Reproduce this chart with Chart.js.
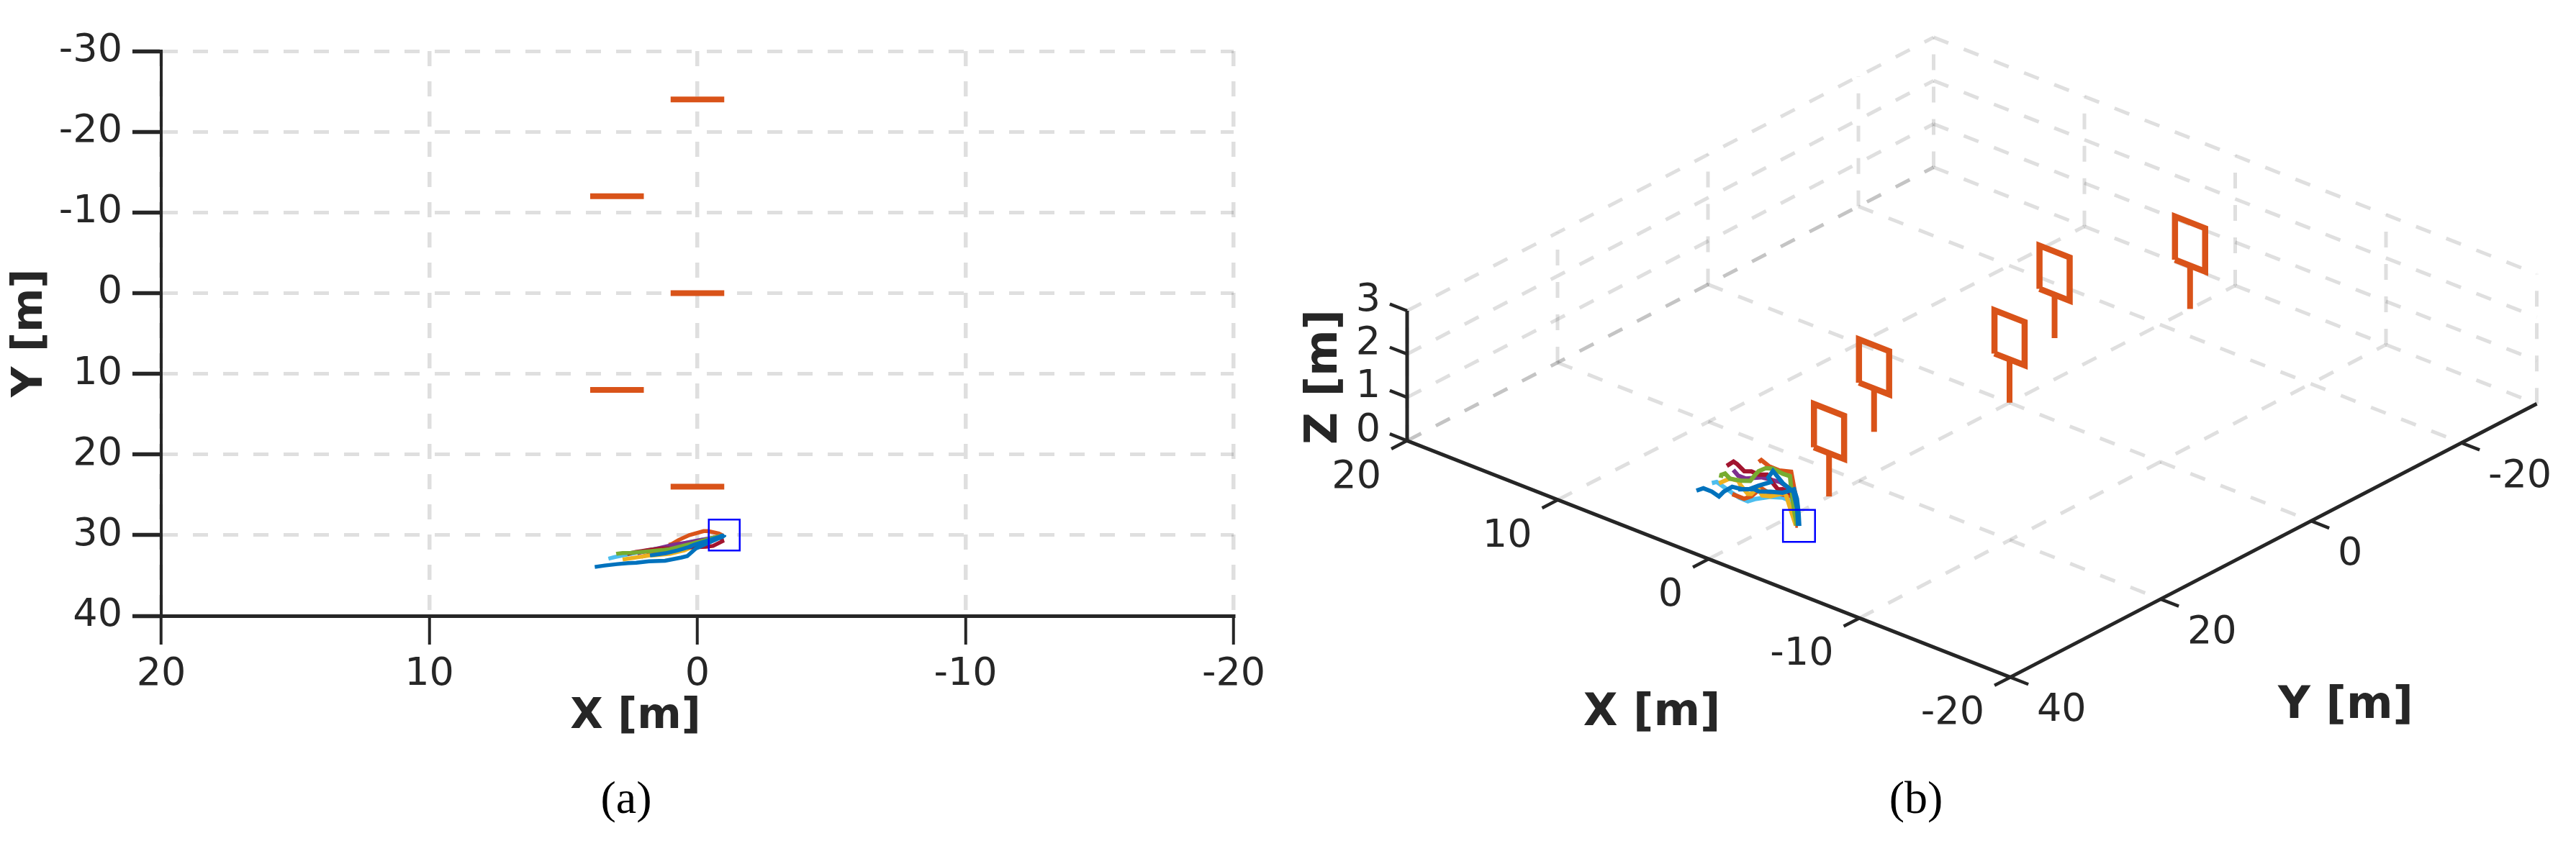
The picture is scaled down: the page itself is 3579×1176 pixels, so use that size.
<!DOCTYPE html>
<html>
<head>
<meta charset="utf-8">
<title>Trajectories and signs</title>
<script src="https://cdn.jsdelivr.net/npm/chart.js@4"></script>
<style>
  html, body { margin: 0; padding: 0; background: #fff; }
  #page { position: relative; width: 3579px; height: 1176px; overflow: hidden; }
  canvas { position: absolute; top: 0; }
  #topView { left: 0; }
  #sideView { left: 1790px; }
</style>
</head>
<body>
<div id="page">
  <canvas id="topView" width="1790" height="1176"></canvas>
  <canvas id="sideView" width="1789" height="1176"></canvas>
</div>
<script>
// axis ticks
const xTicks = [20, 10, 0, -10, -20];
const yTicksTop = [-30, -20, -10, 0, 10, 20, 30, 40];
const yTicks3d = [-20, 0, 20, 40];
const zTicks3d = [0, 1, 2, 3];

// sign posts
const signX = [0, 3, 0, 3, 0];
const signY = [-24, -12, 0, 12, 24];

// start marker
const startX = -1;
const startY = 30;

const blueLongX = [-1.02, -1.0, -0.94, -0.84, -0.4, 0.06, 0.38, 0.6, 1.21, 1.81, 2.28, 2.58, 2.99, 3.46, 3.83];
const blueLongY = [30, 30.05, 30.15, 30.33, 30.98, 31.65, 32.6, 32.78, 33.17, 33.25, 33.42, 33.46, 33.59, 33.77, 33.95];
const blueLongZ = [0, 0.29, 0.63, 0.85, 0.77, 0.79, 0.84, 0.88, 0.83, 0.81, 0.65, 0.5, 0.57, 0.6, 0.51];

const blueUpX = [-0.96, -0.91, -0.77, -0.3, 0.13, 0.31, 0.2, 0.74, 1.19, 1.77];
const blueUpY = [30.03, 30.07, 30.28, 30.76, 31.2, 31.45, 31.36, 31.89, 32.25, 32.52];
const blueUpZ = [0, 0.4, 0.78, 0.96, 1.22, 1.07, 0.97, 0.86, 0.75, 0.69];

const greenX = [-0.91, -0.79, -0.7, -0.62, -0.57, -0.24, 0.2, 0.54, 0.88, 1.05, 1.31, 1.78, 2.49, 2.79, 3.0, 3.03];
const greenY = [30.07, 30.17, 30.24, 30.3, 30.34, 30.66, 31.06, 31.33, 31.6, 31.74, 31.85, 32.0, 32.19, 32.23, 32.3, 32.32];
const greenZ = [0, 0.28, 0.6, 0.88, 1.12, 1.16, 1.25, 1.24, 1.15, 1.05, 0.89, 0.84, 0.81, 0.89, 0.84, 0.77];

const redX = [-0.93, -0.88, -0.93, -0.58, -0.32, -0.02, 0.37, 0.84, 1.33, 1.74, 2.11, 2.3, 2.62];
const redY = [30.06, 30.2, 30.76, 31.34, 31.44, 31.48, 31.5, 31.67, 31.66, 31.79, 31.99, 32.09, 32.34];
const redZ = [0, 0.4, 0.79, 0.91, 0.88, 0.98, 1.13, 1.08, 1.09, 1.05, 1.18, 1.22, 1.1];

const purpleX = [-0.91, -0.77, -0.57, -0.07, 0.42, 0.9, 1.66, 2.0, 2.24];
const purpleY = [30.07, 30.18, 30.34, 30.64, 30.94, 31.2, 31.78, 32.05, 32.24];
const purpleZ = [0, 0.5, 0.82, 0.94, 0.96, 0.97, 0.89, 0.93, 1.05];

const yellowX = [-0.85, -0.62, -0.48, -0.41, 0.17, 0.49, 0.72, 1.01, 1.21, 1.62, 1.77, 2.22, 2.79];
const yellowY = [30.12, 30.3, 30.52, 30.67, 31.44, 31.89, 32.08, 32.31, 32.37, 32.5, 32.52, 32.73, 33.03];
const yellowZ = [0, 0.32, 0.6, 0.74, 0.65, 0.67, 0.83, 0.67, 0.65, 0.8, 0.89, 0.9, 0.74];

const lightBlueX = [-0.91, -0.51, -0.19, 0.42, 1.13, 1.55, 1.97, 2.74, 3.1, 3.32];
const lightBlueY = [30.07, 30.39, 30.55, 30.94, 31.6, 31.69, 31.98, 32.49, 32.73, 32.92];
const lightBlueZ = [0, 0.56, 0.59, 0.56, 0.47, 0.37, 0.42, 0.61, 0.7, 0.66];

const orangeHumpX = [-0.95, -0.8, -0.4, -0.23, 0.3, 0.7, 0.95, 1.07];
const orangeHumpY = [30.05, 29.8, 29.5, 29.5, 30, 30.6, 31.1, 31.2];
const orangeHumpZ = [0, 0.4, 0.8, 1.1, 1.1, 1.2, 1.35, 1.3];

const orangeLowX = [-0.91, -0.71, -0.18, 0.24, 0.69, 1.15, 1.53, 2.09];
const orangeLowY = [30.07, 30.33, 30.86, 31.29, 31.65, 32.02, 32.22, 32.67];
const orangeLowZ = [0, 0.67, 0.7, 0.68, 0.79, 0.57, 0.48, 0.55];

const inkColor = '#262626';
const gridColor = 'rgba(38, 38, 38, 0.15)';
const signColor = '#D95319';
const fontFamily = '"DejaVu Sans"';

// back to front
const runs = [
  { x: lightBlueX, y: lightBlueY, z: lightBlueZ, color: '#4DBEEE' },
  { x: orangeHumpX, y: orangeHumpY, z: orangeHumpZ, color: '#D95319' },
  { x: orangeLowX, y: orangeLowY, z: orangeLowZ, color: '#D95319' },
  { x: yellowX, y: yellowY, z: yellowZ, color: '#EDB120' },
  { x: purpleX, y: purpleY, z: purpleZ, color: '#7E2F8E' },
  { x: redX, y: redY, z: redZ, color: '#A2142F' },
  { x: greenX, y: greenY, z: greenZ, color: '#77AC30' },
  { x: blueUpX, y: blueUpY, z: blueUpZ, color: '#0072BD' },
  { x: blueLongX, y: blueLongY, z: blueLongZ, color: '#0072BD' },
];

function lineSet(data, color, width, dash) {
  return {
    data,
    showLine: true,
    pointRadius: 0,
    borderColor: color,
    borderWidth: width,
    borderDash: dash || [],
    borderCapStyle: 'butt',
    borderJoinStyle: 'miter',
    tension: 0,
    clip: false,
  };
}

function markerSet(point, size) {
  return {
    data: [point],
    showLine: false,
    pointStyle: 'rect',
    pointRadius: size,
    pointBackgroundColor: 'rgba(0, 0, 0, 0)',
    pointBorderColor: '#0000FF',
    pointBorderWidth: 2.5,
    clip: false,
  };
}

// texts that sit at fixed spots on a canvas
function textPlugin(texts) {
  return {
    id: 'texts',
    afterDraw(chart) {
      const ctx = chart.ctx;
      texts(chart).forEach(t => {
        ctx.save();
        ctx.translate(t.x, t.y);
        if (t.rotate) ctx.rotate(t.rotate);
        ctx.font = t.font;
        ctx.fillStyle = t.color || inkColor;
        ctx.textAlign = t.align || 'center';
        ctx.textBaseline = 'middle';
        ctx.fillText(t.text, 0, 0);
        ctx.restore();
      });
    },
  };
}

// ---- left panel, seen from above ----
function topViewData() {
  const sets = [];
  signX.forEach((x, i) => {
    sets.push(lineSet([{ x: x + 1, y: signY[i] }, { x: x - 1, y: signY[i] }], signColor, 8));
  });
  runs.forEach(run => {
    sets.push(lineSet(run.x.map((x, i) => ({ x, y: run.y[i] })), run.color, 5.5));
  });
  sets.push(markerSet({ x: startX, y: startY }, 30.4));
  // Chart.js paints the first dataset last
  return sets.reverse();
}

new Chart(document.getElementById('topView'), {
  type: 'scatter',
  data: { datasets: topViewData() },
  options: {
    responsive: false,
    animation: false,
    devicePixelRatio: 1,
    layout: { autoPadding: false, padding: { top: 71, right: 76, left: 0, bottom: 0 } },
    plugins: { legend: { display: false }, tooltip: { enabled: false } },
    scales: {
      x: {
        type: 'linear',
        reverse: true,
        min: -20,
        max: 20,
        afterFit: scale => { scale.height = 320; },
        afterBuildTicks: scale => { scale.ticks = xTicks.map(value => ({ value })); },
        border: { color: inkColor, width: 5, dash: [21, 21] },
        grid: { color: gridColor, lineWidth: 5.5, tickColor: inkColor, tickLength: 40, tickWidth: 4 },
        ticks: {
          color: inkColor, padding: 10, maxRotation: 0, autoSkip: false,
          font: { family: fontFamily, size: 54 },
          callback: value => String(value),
        },
      },
      y: {
        type: 'linear',
        reverse: true,
        min: -30,
        max: 40,
        afterFit: scale => { scale.width = 224; },
        afterBuildTicks: scale => { scale.ticks = yTicksTop.map(value => ({ value })); },
        border: { color: inkColor, width: 4, dash: [21, 21] },
        grid: { color: gridColor, lineWidth: 5, tickColor: inkColor, tickLength: 40, tickWidth: 5.5 },
        ticks: {
          color: inkColor, padding: 14, autoSkip: false,
          font: { family: fontFamily, size: 54 },
          callback: value => String(value),
        },
      },
    },
  },
  plugins: [textPlugin(() => [
    { text: 'X [m]', x: 883, y: 997, font: `bold 59px ${fontFamily}` },
    { text: 'Y [m]', x: 43, y: 463, rotate: -Math.PI / 2, font: `bold 59px ${fontFamily}` },
    { text: '(a)', x: 870, y: 1113, color: '#000', font: '64px "Liberation Serif"' },
  ])],
});

// ---- right panel, the same world through a fixed oblique view ----
function viewX(X, Y) {
  return 2792 - 20.95 * X - 10.45 * Y;
}
function viewY(X, Y, Z) {
  return 559.8 - 8.22 * X + 5.43 * Y - 60.2 * Z;
}
function at(X, Y, Z) {
  return { x: viewX(X, Y), y: viewY(X, Y, Z) };
}

const xLow = -20, xHigh = 20, yLow = -30, yHigh = 40, zLow = 0, zHigh = 3;

function gridLine(a, b) {
  return lineSet([a, b], gridColor, 5, [22, 23]);
}

function sideViewData() {
  const sets = [];

  // floor
  xTicks.forEach(X => sets.push(gridLine(at(X, yHigh, zLow), at(X, yLow, zLow))));
  yTicks3d.forEach(Y => sets.push(gridLine(at(xHigh, Y, zLow), at(xLow, Y, zLow))));

  // wall at X = 20
  yTicks3d.forEach(Y => sets.push(gridLine(at(xHigh, Y, zLow), at(xHigh, Y, zHigh))));
  zTicks3d.forEach(Z => sets.push(gridLine(at(xHigh, yHigh, Z), at(xHigh, yLow, Z))));

  // wall at Y = -30
  xTicks.forEach(X => sets.push(gridLine(at(X, yLow, zLow), at(X, yLow, zHigh))));
  zTicks3d.forEach(Z => sets.push(gridLine(at(xHigh, yLow, Z), at(xLow, yLow, Z))));

  // axes and their ticks
  sets.push(lineSet([at(xHigh, yHigh, zLow), at(xLow, yHigh, zLow)], inkColor, 5));
  sets.push(lineSet([at(xLow, yHigh, zLow), at(xLow, yLow, zLow)], inkColor, 5));
  sets.push(lineSet([at(xHigh, yHigh, zLow), at(xHigh, yHigh, zHigh)], inkColor, 5));
  xTicks.forEach(X => sets.push(lineSet([at(X, yHigh, zLow), at(X, yHigh + 2.1, zLow)], inkColor, 4.5)));
  yTicks3d.forEach(Y => sets.push(lineSet([at(xLow, Y, zLow), at(xLow - 1.2, Y, zLow)], inkColor, 4.5)));
  zTicks3d.forEach(Z => sets.push(lineSet([at(xHigh, yHigh, Z), at(xHigh + 1.15, yHigh, Z)], inkColor, 4.5)));

  // signs: a post and a square panel on top of it
  signX.forEach((X, i) => {
    const Y = signY[i];
    sets.push(lineSet([at(X, Y, 0), at(X, Y, 1)], signColor, 8));
    sets.push(lineSet([
      at(X + 1, Y, 1), at(X - 1, Y, 1), at(X - 1, Y, 2), at(X + 1, Y, 2), at(X + 1, Y, 1),
    ], signColor, 8.5));
  });

  runs.forEach(run => {
    sets.push(lineSet(run.x.map((x, i) => at(x, run.y[i], run.z[i])), run.color, 6));
  });
  sets.push(markerSet(at(startX, startY, 0), 31.5));
  // Chart.js paints the first dataset last
  return sets.reverse();
}

function sideViewTexts(chart) {
  const px = v => chart.scales.x.getPixelForValue(v);
  const py = v => chart.scales.y.getPixelForValue(v);
  const font = `54px ${fontFamily}`;
  const titleFont = `bold 62px ${fontFamily}`;
  const texts = [];
  xTicks.forEach(X => {
    const p = at(X, yHigh, zLow);
    texts.push({ text: String(X), x: px(p.x - 36), y: py(p.y + 51), align: 'right', font });
  });
  yTicks3d.forEach(Y => {
    const p = at(xLow, Y, zLow);
    texts.push({ text: String(Y), x: px(p.x + 37), y: py(p.y + 47), align: 'left', font });
  });
  zTicks3d.forEach(Z => {
    const p = at(xHigh, yHigh, Z);
    texts.push({ text: String(Z), x: px(p.x - 37), y: py(p.y - 14), align: 'right', font });
  });
  texts.push({ text: 'X [m]', x: px(2295), y: py(992), font: titleFont });
  texts.push({ text: 'Y [m]', x: px(3259), y: py(982), font: titleFont });
  texts.push({ text: 'Z [m]', x: px(1841), y: py(524), rotate: -Math.PI / 2, font: titleFont });
  texts.push({ text: '(b)', x: px(2662), y: py(1113), color: '#000', font: '64px "Liberation Serif"' });
  return texts;
}

new Chart(document.getElementById('sideView'), {
  type: 'scatter',
  data: { datasets: sideViewData() },
  options: {
    responsive: false,
    animation: false,
    devicePixelRatio: 1,
    layout: { autoPadding: false, padding: 0 },
    plugins: { legend: { display: false }, tooltip: { enabled: false } },
    scales: {
      x: { type: 'linear', min: 1790, max: 3579, display: false },
      y: { type: 'linear', reverse: true, min: 0, max: 1176, display: false },
    },
  },
  plugins: [textPlugin(sideViewTexts)],
});
</script>
</body>
</html>
